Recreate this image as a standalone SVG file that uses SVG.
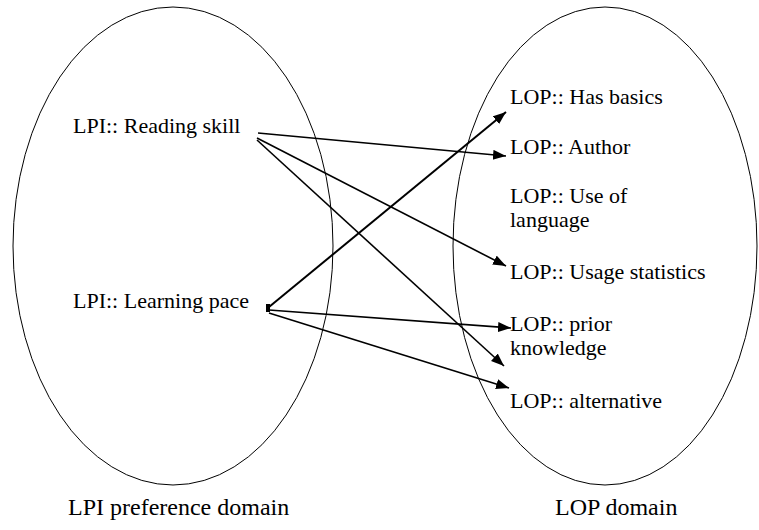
<svg xmlns="http://www.w3.org/2000/svg" width="759" height="530" viewBox="0 0 759 530" font-family="Liberation Serif">
<defs>
<marker id="ah" markerUnits="userSpaceOnUse" markerWidth="14" markerHeight="12" refX="13" refY="5" orient="auto">
<path d="M0,0 L13,5 L0,10 z" fill="#000"/>
</marker>
</defs>
<rect width="759" height="530" fill="#fff"/>
<g id="lpi-domain">
<ellipse cx="173" cy="246" rx="160" ry="239" fill="none" stroke="#000" stroke-width="1"/>
<text x="68" y="515" font-family="Liberation Serif" font-size="24" fill="#000">LPI preference domain</text>
</g>
<g id="lop-domain">
<ellipse cx="605" cy="246" rx="152" ry="239" fill="none" stroke="#000" stroke-width="1"/>
<text x="555" y="515" font-family="Liberation Serif" font-size="24" fill="#000">LOP domain</text>
</g>
<g font-family="Liberation Serif" font-size="22" fill="#000">
<g id="lpi-reading"><text x="73" y="133" font-family="Liberation Serif">LPI:: Reading skill</text></g>
<g id="lpi-pace"><text x="73" y="308" font-family="Liberation Serif">LPI:: Learning pace</text></g>
<g id="lop-basics"><text x="510" y="104" font-family="Liberation Serif">LOP:: Has basics</text></g>
<g id="lop-author"><text x="510" y="154" font-family="Liberation Serif">LOP:: Author</text></g>
<g id="lop-language"><text x="510" y="203" font-family="Liberation Serif">LOP:: Use of</text><text x="510" y="227" font-family="Liberation Serif">language</text></g>
<g id="lop-usage"><text x="510" y="279" font-family="Liberation Serif">LOP:: Usage statistics</text></g>
<g id="lop-prior"><text x="510" y="331" font-family="Liberation Serif">LOP:: prior</text><text x="510" y="355" font-family="Liberation Serif">knowledge</text></g>
<g id="lop-alt"><text x="510" y="408" font-family="Liberation Serif">LOP:: alternative</text></g>
</g>
<g id="connectors" fill="none" stroke="#000" stroke-width="1.6">
<line x1="258" y1="133" x2="506" y2="156" marker-end="url(#ah)"/>
<line x1="257" y1="138" x2="506" y2="266" marker-end="url(#ah)"/>
<line x1="257" y1="140" x2="504" y2="366" marker-end="url(#ah)"/>
<line x1="269" y1="307" x2="506" y2="112" marker-end="url(#ah)" stroke-width="2"/>
<line x1="269" y1="310" x2="511" y2="328" marker-end="url(#ah)"/>
<line x1="269" y1="313" x2="509" y2="388" marker-end="url(#ah)"/>
<rect x="266" y="304" width="4" height="8" fill="#000" stroke="none"/>
</g>
</svg>
